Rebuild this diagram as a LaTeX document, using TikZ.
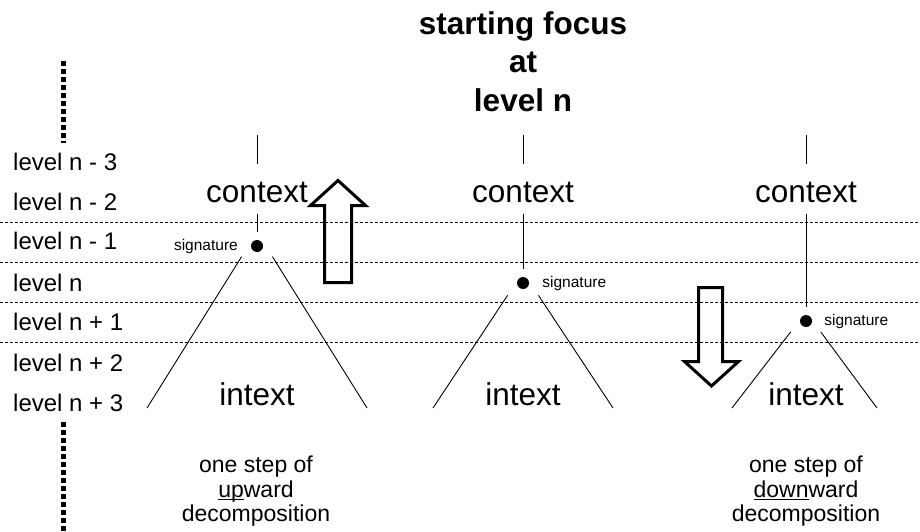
\documentclass[tikz,border=0pt]{standalone}
\usepackage{fontspec}
\setmainfont{Liberation Sans}
\tikzset{
    level-label/.style = {anchor=base west, inner sep=0pt, font=\fontsize{24}{28}\selectfont},
    level-rule/.style = {line width=0.9pt, dash pattern=on 3pt off 2pt},
    dot-rule/.style = {line width=5pt, dash pattern=on 5pt off 3pt},
    thin-line/.style = {line width=0.9pt},
    big-word/.style = {anchor=base, inner sep=0pt, font=\fontsize{31.5}{36}\selectfont},
    sig-dot/.style = {circle, fill=black, inner sep=0pt, minimum size=12pt},
    sig-label/.style = {inner sep=0pt, font=\fontsize{15.5}{18}\selectfont},
    title-line/.style = {anchor=base, inner sep=0pt, font=\fontsize{31.5}{36}\selectfont\bfseries},
    step-note/.style = {anchor=north, inner sep=0pt, align=center, font=\fontsize{23}{24.5}\selectfont},
    hollow-arrow/.style = {draw, line width=3pt, line join=miter},
}

\begin{document}
\begin{tikzpicture}[x=1pt, y=-1pt]
\useasboundingbox (0,0) rectangle (920,532);

\node[title-line] (title-1) at (523,35) {starting focus};
\node[title-line] (title-2) at (523,73) {at};
\node[title-line] (title-3) at (523,112) {level n};

\foreach \lbl/\y [count=\i] in {n - 3/170, n - 2/210, n - 1/249, n/291, n + 1/330, n + 2/371, n + 3/411}
    \node[level-label] (lvl-\i) at (13,\y) {level \lbl};

\foreach \y in {222,262,302,342}
    \draw[level-rule] (0,\y) -- (920,\y);

\draw[dot-rule] (63,61) -- (63,143);
\draw[dot-rule] (63,422) -- (63,532);

\foreach \col/\x/\dy/\ay/\gap/\lx/\rx in {up/257/246/232/29pt/147/367, mid/523/283/272/28pt/433/613, down/806/321/312/25pt/732/877} {
    \coordinate (\col-top) at (\x,135);
    \coordinate (\col-apex) at (\x,\ay);
    \coordinate (\col-left) at (\lx,408);
    \coordinate (\col-right) at (\rx,408);
    \node[big-word] (\col-context) at (\x,202) {context};
    \node[big-word] (\col-intext) at (\x,405) {intext};
    \node[sig-dot] (\col-sig) at (\x,\dy) {};
    \draw[thin-line, shorten >=17pt] (\col-top) -- (\col-context.north);
    \draw[thin-line, shorten <=11pt, shorten >=8pt] (\col-context.south) -- (\col-sig);
    \draw[thin-line, shorten <=\gap] (\col-apex) -- (\col-left);
    \draw[thin-line, shorten <=\gap] (\col-apex) -- (\col-right);
}

\node[sig-label, anchor=east] (up-sig-label) at ([xshift=-19pt]up-sig.center) {signature};
\node[sig-label, anchor=west] (mid-sig-label) at ([xshift=13pt]mid-sig.east) {signature};
\node[sig-label, anchor=west] (down-sig-label) at ([xshift=12pt]down-sig.east) {signature};

\draw[hollow-arrow] (324.5,282.5) -- (351.5,282.5) -- (351.5,205.5) -- (365.5,205.5)
    -- (338,180.5) -- (310.5,205.5) -- (324.5,205.5) -- cycle;
\draw[hollow-arrow] (698.5,287.5) -- (722.5,287.5) -- (722.5,361.5) -- (738.5,361.5)
    -- (711.5,386) -- (684.5,361.5) -- (698.5,361.5) -- cycle;

\node[step-note] (up-note) at (256,456) {one step of\\\underline{\smash{up}}ward\\decomposition};
\node[step-note] (down-note) at (806,456) {one step of\\\underline{down}ward\\decomposition};
\end{tikzpicture}
\end{document}
